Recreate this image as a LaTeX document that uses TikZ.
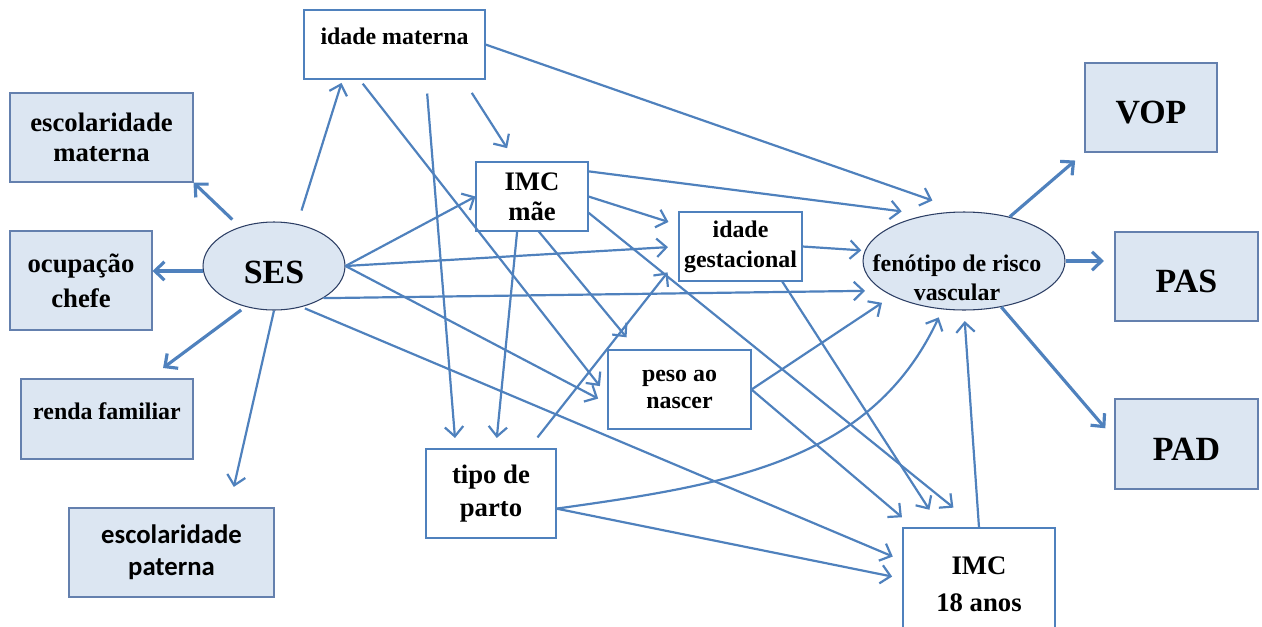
\documentclass[tikz,border=0pt]{standalone}
\usepackage{fontspec}
\setmainfont{Liberation Serif}
\newfontfamily\calibri{Carlito}
\usetikzlibrary{arrows.meta,shapes.geometric}
\definecolor{linkblue}{RGB}{79,129,189}
\definecolor{boxfill}{RGB}{220,230,242}
\definecolor{boxline}{RGB}{100,128,174}
\definecolor{ovalline}{RGB}{44,62,100}

\begin{document}
\begin{tikzpicture}[x=0.02cm, y=-0.02cm, >={Straight Barb[length=5.5pt,width=10.5pt]},
  lbox/.style={rectangle, draw=boxline, fill=boxfill, line width=0.6pt, inner sep=1pt, align=center},
  wbox/.style={rectangle, draw=linkblue, fill=white, line width=0.6pt, inner sep=1pt, align=center},
  oval/.style={ellipse, draw=ovalline, fill=boxfill, line width=0.6pt, inner sep=1pt},
  bigtxt/.style={font=\bfseries\fontsize{15.2}{17}\selectfont},
  smalltxt/.style={font=\bfseries\fontsize{13.6}{17}\selectfont},
  captxt/.style={font=\bfseries\fontsize{19.3}{22}\selectfont, text height=18.5pt, text depth=0pt},
  link/.style={->, draw=linkblue, line width=1.25pt},
  heavy/.style={link, line width=1.8pt}]
\useasboundingbox (0,0) rectangle (1262,626);
\clip (0,0) rectangle (1262,626);
\node (escmat) at (101.5,137.5) [lbox,bigtxt,minimum width=3.66cm,minimum height=1.78cm] {escolaridade\\materna};
\node   (ocup) at (81,280.5) [lbox,font=\bfseries\fontsize{15.2}{19.8}\selectfont,minimum width=2.84cm,minimum height=1.98cm] {ocupação\\chefe};
\node  (renda) at (107,419) [lbox,smalltxt,text height=9pt,text depth=9pt,minimum width=3.44cm,minimum height=1.6cm] {renda familiar};
\node (escpat) at (171.5,552.5) [lbox,font=\calibri\bfseries\fontsize{15.2}{18}\selectfont,minimum width=4.1cm,minimum height=1.78cm] {escolaridade\\paterna};
\node    (ses) at (274,266) [oval,font=\bfseries\fontsize{19.3}{22}\selectfont,text height=20pt,text depth=0pt,minimum width=2.84cm,minimum height=1.76cm] {SES};
\node  (idmat) at (394.5,44.5) [wbox,smalltxt,text height=9pt,text depth=9pt,minimum width=3.62cm,minimum height=1.38cm] {idade materna};
\node (imcmae) at (532,196.5) [wbox,bigtxt,minimum width=2.24cm,minimum height=1.38cm] {IMC\\mãe};
\node (idgest) at (740.5,246.5) [wbox,smalltxt,minimum width=2.46cm,minimum height=1.38cm] {idade\\gestacional};
\node   (peso) at (679.5,389.5) [wbox,font=\bfseries\fontsize{13.6}{15.9}\selectfont,minimum width=2.86cm,minimum height=1.58cm] {peso ao\\nascer};
\node   (tipo) at (491,493.5) [wbox,font=\bfseries\fontsize{15.2}{18.7}\selectfont,minimum width=2.6cm,minimum height=1.78cm] {tipo de\\parto};
\node  (imc18) at (979,584) [wbox,font=\bfseries\fontsize{15.2}{21}\selectfont,minimum width=3.04cm,minimum height=2.24cm] {IMC\\18 anos};
\node    (fen) at (964,261) [oval,minimum width=4.04cm,minimum height=1.96cm,label={[smalltxt,align=center,xshift=-4pt,yshift=-9.5pt]center:fenótipo de risco\\vascular}] {};
\node    (vop) at (1151,107.5) [lbox,captxt,minimum width=2.64cm,minimum height=1.78cm] {VOP};
\node    (pas) at (1186.5,276.5) [lbox,captxt,minimum width=2.86cm,minimum height=1.78cm] {PAS};
\node    (pad) at (1186.5,444) [lbox,captxt,minimum width=2.86cm,minimum height=1.8cm] {PAD};
\draw [heavy, shorten <=6pt] (ses.131) -- (escmat.south east);
\draw [heavy] (ses.184) -- (ses.184 -| ocup.east);
\draw [heavy, shorten <=3pt, shorten >=10pt] (ses.235) -- (renda.44);
\draw [link, shorten >=12pt] (ses.south) -- (escpat.38);
\draw [link, shorten <=8pt, shorten >=2pt] (ses.61) -- (idmat.214);
\draw [link] (ses.east) -- (imcmae.west);
\draw [link, shorten >=6pt] (ses.east) -- (idgest.west);
\draw [link, shorten >=10pt] (ses.327) -- (fen.200);
\draw [link, shorten >=6pt] (ses.east) -- (peso.191);
\draw [link, shorten <=2pt, shorten >=6pt] (ses.304) -- (imc18.163);
\draw [link, shorten <=9pt, shorten >=9pt] (idmat.333) -- (imcmae.115);
\draw [link, shorten >=19pt] (idmat.east) -- (fen.north);
\draw [link, shorten <=8pt, shorten >=6pt] (idmat.312) -- (tipo.128);
\draw [link, shorten <=3pt, shorten >=7pt] (idmat.225) -- (peso.185);
\draw [link, shorten >=15pt] (imcmae.24) -- (fen.128);
\draw [link, shorten >=6pt] (imcmae.east) -- (idgest.161);
\draw [link, shorten >=6pt] (imcmae.247) -- (tipo.84);
\draw [link, shorten >=9pt] (imcmae.281) -- (peso.137);
\draw [link, shorten >=18pt] (imcmae.344) -- (imc18.91);
\draw [link, shorten >=2pt] (idgest.east) -- (fen.174);
\draw [link, shorten >=12pt] (idgest.320) -- (imc18.124);
\draw [link, shorten <=8pt, shorten >=10pt] (tipo.50) -- (idgest.191);
\draw [link, shorten >=5pt] (tipo.347) to [out=8, in=-115] (fen.246);
\draw [link, shorten >=6pt] (tipo.347) -- (imc18.176);
\draw [link, shorten >=7pt] (peso.east) -- (fen.206);
\draw [link, shorten >=9pt] (peso.east) -- (imc18.139);
\draw [link, shorten >=6pt] (imc18.north) -- (fen.south);
\draw [heavy, shorten >=7pt] (fen.44) -- (vop.south west);
\draw [heavy, shorten >=6pt] (fen.east) -- (fen.east -| pas.west);
\draw [heavy, shorten >=8pt] (fen.309) -- (pad.176);
\end{tikzpicture}
\end{document}
